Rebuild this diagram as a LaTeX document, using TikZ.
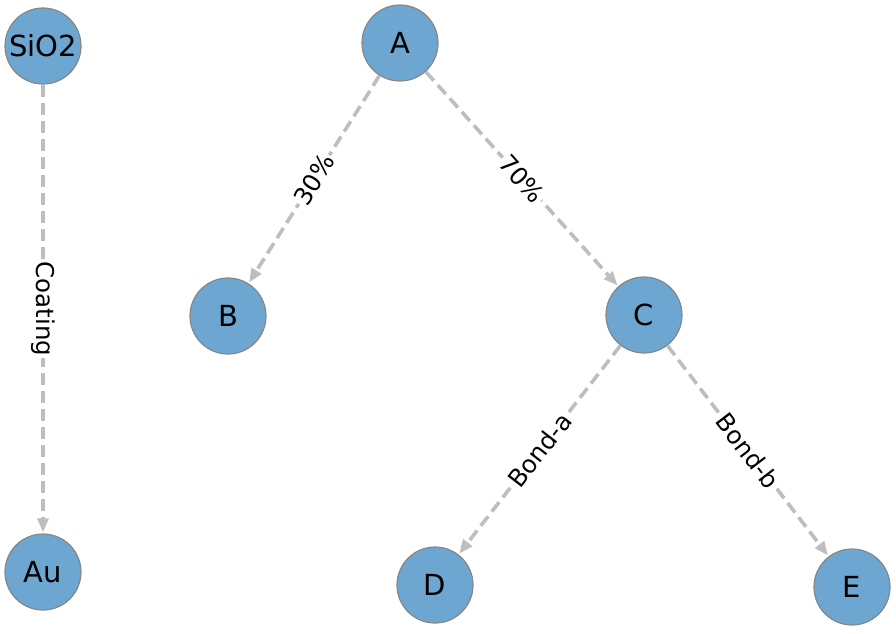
\documentclass[tikz,border=0pt]{standalone}
\usepackage{fontspec}
\setmainfont{DejaVu Sans}
\usetikzlibrary{arrows.meta}
\definecolor{nodefill}{RGB}{108,166,209}
\definecolor{nodeborder}{RGB}{135,135,135}
\definecolor{edgegray}{RGB}{190,190,190}
\tikzset{
  vert/.style={circle, minimum size=76pt, inner sep=0pt, fill=nodefill, draw=nodeborder, line width=1.2pt,
    font=\fontsize{29}{30}\selectfont},
  link/.style={draw=edgegray, line width=3.6pt, dash pattern=on 12pt off 6pt,
    -{Triangle[length=14pt,width=11pt,fill=edgegray]}, shorten >=1pt},
  lbl/.style={fill=white, inner sep=1.5pt, font=\fontsize{24.5}{25}\selectfont, text=black}
}
\begin{document}
\begin{tikzpicture}[x=1pt,y=-1pt]
\useasboundingbox (0,0) rectangle (896,633);
\node[vert] (SiO2) at (43,46) {SiO2};
\node[vert] (A) at (400,43) {A};
\node[vert] (B) at (228,316) {B};
\node[vert] (C) at (644,315) {C};
\node[vert] (Au) at (43,572) {Au};
\node[vert] (D) at (435,585) {D};
\node[vert] (E) at (852,587) {E};
\draw[link] (SiO2) -- node[lbl, midway, rotate=-90] {Coating} (Au);
\draw[link] (A) -- node[lbl, midway, sloped] {30\%} (B);
\draw[link] (A) -- node[lbl, midway, sloped] {70\%} (C);
\draw[link] (C) -- node[lbl, midway, sloped] {Bond-a} (D);
\draw[link] (C) -- node[lbl, midway, sloped] {Bond-b} (E);
\end{tikzpicture}
\end{document}
